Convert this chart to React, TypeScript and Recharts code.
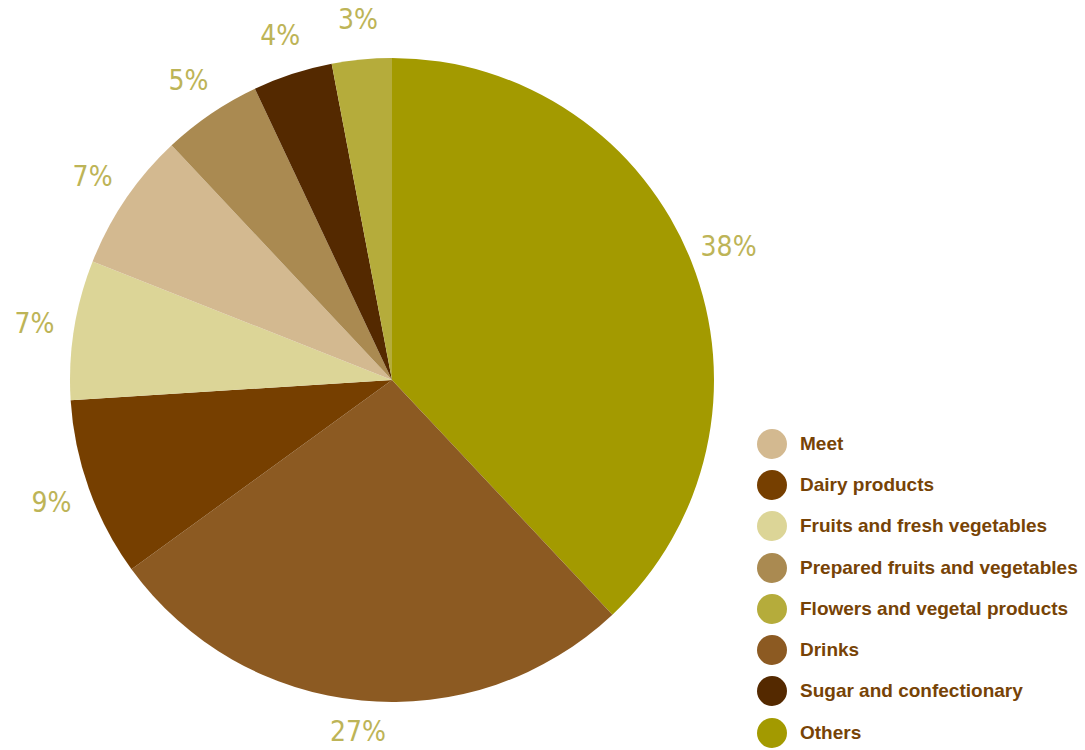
import { PieChart, Pie, Cell, Legend } from 'recharts';

// slices clockwise from 12 o'clock
const SLICE_NAMES = [
  'Others',
  'Drinks',
  'Dairy products',
  'Fruits and fresh vegetables',
  'Meet',
  'Prepared fruits and vegetables',
  'Sugar and confectionary',
  'Flowers and vegetal products',
];
const SLICE_VALUES = [38, 27, 9, 7, 7, 5, 4, 3];
const SLICE_COLORS = [
  '#a39a00',
  '#8c5a22',
  '#763f00',
  '#dcd597',
  '#d3b990',
  '#aa8a51',
  '#542900',
  '#b5ac3b',
];

// legend order differs from slice order
const LEGEND_ORDER = [
  'Meet',
  'Dairy products',
  'Fruits and fresh vegetables',
  'Prepared fruits and vegetables',
  'Flowers and vegetal products',
  'Drinks',
  'Sugar and confectionary',
  'Others',
];

const data = SLICE_NAMES.map((name, i) => ({ name, value: SLICE_VALUES[i] }));

const RADIAN = Math.PI / 180;

function renderLabel(props: any) {
  const { cx, cy, midAngle, outerRadius, value } = props;
  const r = outerRadius + 40;
  const x = cx + r * Math.cos(-midAngle * RADIAN);
  // keep the bottom label inside the frame
  const y = Math.min(cy + r * Math.sin(-midAngle * RADIAN), 731);
  return (
    <text
      x={x}
      y={y}
      fill="#bdb457"
      textAnchor="middle"
      dominantBaseline="central"
      style={{ fontFamily: "'Liberation Sans Narrow', 'DejaVu Sans Condensed', sans-serif", fontSize: 28 }}
    >
      {`${value}%`}
    </text>
  );
}

function LegendContent() {
  return (
    <div>
      {LEGEND_ORDER.map((name) => {
        const color = SLICE_COLORS[SLICE_NAMES.indexOf(name)];
        return (
          <div key={name} style={{ display: 'flex', alignItems: 'center', height: 41.3 }}>
            <span
              style={{
                width: 30,
                height: 30,
                borderRadius: '50%',
                background: color,
                marginRight: 13,
                flexShrink: 0,
              }}
            />
            <span
              style={{
                fontFamily: "'Liberation Sans', Arial, sans-serif",
                fontWeight: 'bold',
                fontSize: 19,
                color: '#774306',
                whiteSpace: 'nowrap',
              }}
            >
              {name}
            </span>
          </div>
        );
      })}
    </div>
  );
}

export default function App() {
  return (
    <div style={{ width: 1085, height: 750 }}>
      <style>{'body { margin: 0; }'}</style>
      <PieChart width={1085} height={750} margin={{ top: 0, right: 0, bottom: 0, left: 0 }}>
        <Pie
          data={data}
          dataKey="value"
          nameKey="name"
          cx={392}
          cy={380}
          outerRadius={322}
          startAngle={90}
          endAngle={-270}
          stroke="none"
          label={renderLabel}
          labelLine={false}
          isAnimationActive={false}
        >
          {data.map((d, i) => (
            <Cell key={d.name} fill={SLICE_COLORS[i]} />
          ))}
        </Pie>
        <Legend
          content={<LegendContent />}
          wrapperStyle={{ position: 'absolute', left: 757, top: 423, width: 330 }}
        />
      </PieChart>
    </div>
  );
}
